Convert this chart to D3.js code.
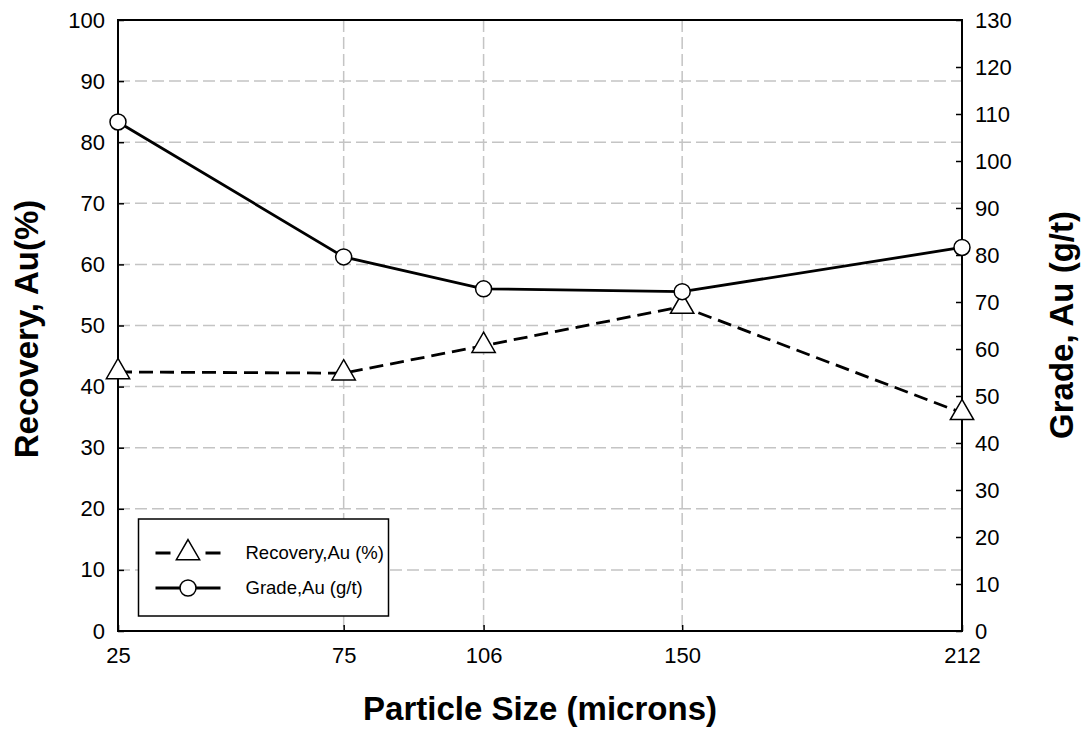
<!DOCTYPE html>
<html>
<head>
<meta charset="utf-8">
<script src="https://cdn.jsdelivr.net/npm/d3@7"></script>
<style>
  html, body { margin: 0; padding: 0; background: #fff; }
  svg { display: block; font-family: "Liberation Sans", Arial, Helvetica, sans-serif; }
</style>
</head>
<body>
<svg id="chart" width="1082" height="733"></svg>
<script>
// Particle sizes (microns)
const sizes = [25, 75, 106, 150, 212];
// Gold recovery, % (left axis)
const recovery = [42.4, 42.2, 46.7, 53.1, 35.7];
// Gold grade, g/t (right axis)
const grade = [108.3, 79.6, 72.8, 72.2, 81.6];
// Axis tick values
const leftTicks = [0, 10, 20, 30, 40, 50, 60, 70, 80, 90, 100];
const rightTicks = [0, 10, 20, 30, 40, 50, 60, 70, 80, 90, 100, 110, 120, 130];
const seriesNames = ["Recovery,Au (%)", "Grade,Au (g/t)"];

const svg = d3.select("#chart");
const m = { left: 118, top: 20, right: 1082 - 962, bottom: 733 - 631 };
const W = 1082 - m.left - m.right;
const H = 733 - m.top - m.bottom;
const g = svg.append("g").attr("transform", `translate(${m.left},${m.top})`);

const x = d3.scaleLinear().domain([25, 212]).range([0, W]);
const yL = d3.scaleLinear().domain([0, 100]).range([H, 0]);
const yR = d3.scaleLinear().domain([0, 130]).range([H, 0]);

// Dashed grid
const grid = g.append("g").attr("stroke", "#c4c4c4").attr("stroke-width", 1.5)
  .attr("stroke-dasharray", "12,5").attr("fill", "none");
grid.selectAll("line.h").data(leftTicks.filter(d => d > 0 && d < 100)).join("line")
  .attr("class", "h").attr("x1", 0).attr("x2", W)
  .attr("y1", d => yL(d)).attr("y2", d => yL(d));
grid.selectAll("line.v").data(sizes.filter(d => d > 25 && d < 212)).join("line")
  .attr("class", "v").attr("y1", 0).attr("y2", H)
  .attr("x1", d => x(d)).attr("x2", d => x(d));

// Axes (ticks pointing inward)
const fs = 22;
const axL = g.append("g").call(d3.axisLeft(yL).tickValues(leftTicks).tickSize(-6).tickPadding(13).tickSizeOuter(0));
const axR = g.append("g").attr("transform", `translate(${W},0)`)
  .call(d3.axisRight(yR).tickValues(rightTicks).tickSize(-6).tickPadding(13).tickSizeOuter(0));
const axB = g.append("g").attr("transform", `translate(0,${H})`)
  .call(d3.axisBottom(x).tickValues(sizes).tickSize(-6).tickPadding(13).tickSizeOuter(0));
[axL, axR, axB].forEach(a => {
  a.select(".domain").remove();
  a.selectAll("line").attr("stroke", "#000").attr("stroke-width", 1.5);
  a.selectAll("text").attr("font-size", fs).attr("fill", "#000")
    .attr("font-family", '"Liberation Sans", Arial, Helvetica, sans-serif');
});
axB.selectAll("text").attr("dy", "0.85em");

// Frame
g.append("rect").attr("x", 0).attr("y", 0).attr("width", W).attr("height", H)
  .attr("fill", "none").attr("stroke", "#000").attr("stroke-width", 2);

// Series
const triSize = 235;
const recLine = d3.line().x((d, i) => x(sizes[i])).y(d => yL(d));
const grdLine = d3.line().x((d, i) => x(sizes[i])).y(d => yR(d));

g.append("path").datum(recovery).attr("d", recLine).attr("fill", "none")
  .attr("stroke", "#000").attr("stroke-width", 2.8).attr("stroke-dasharray", "14,7");
g.selectAll("path.tri").data(recovery).join("path").attr("class", "tri")
  .attr("d", d3.symbol(d3.symbolTriangle, triSize))
  .attr("transform", (d, i) => `translate(${x(sizes[i])},${yL(d)})`)
  .attr("fill", "#fff").attr("stroke", "#000").attr("stroke-width", 1.5);

g.append("path").datum(grade).attr("d", grdLine).attr("fill", "none")
  .attr("stroke", "#000").attr("stroke-width", 2.8);
g.selectAll("circle.pt").data(grade).join("circle").attr("class", "pt")
  .attr("cx", (d, i) => x(sizes[i])).attr("cy", d => yR(d)).attr("r", 8)
  .attr("fill", "#fff").attr("stroke", "#000").attr("stroke-width", 1.5);

// Legend
const lg = svg.append("g").attr("transform", "translate(138.5,519)");
lg.append("rect").attr("width", 250).attr("height", 97)
  .attr("fill", "#fff").attr("stroke", "#000").attr("stroke-width", 1.5);
const rows = [
  { name: seriesNames[0], dash: "15,35,15", sym: "tri", y: 34 },
  { name: seriesNames[1], dash: null, sym: "circ", y: 69 }
];
rows.forEach(r => {
  const ln = lg.append("line").attr("x1", 17).attr("x2", 82).attr("y1", r.y).attr("y2", r.y)
    .attr("stroke", "#000").attr("stroke-width", 2.8);
  if (r.dash) ln.attr("stroke-dasharray", r.dash);
  if (r.sym === "tri") {
    lg.append("path").attr("d", d3.symbol(d3.symbolTriangle, triSize))
      .attr("transform", `translate(49.5,${r.y})`)
      .attr("fill", "#fff").attr("stroke", "#000").attr("stroke-width", 1.5);
  } else {
    lg.append("circle").attr("cx", 49.5).attr("cy", r.y).attr("r", 8)
      .attr("fill", "#fff").attr("stroke", "#000").attr("stroke-width", 1.5);
  }
  lg.append("text").attr("x", 107).attr("y", r.y).attr("dy", "0.35em")
    .attr("font-size", 18.5).text(r.name);
});

// Axis titles
svg.append("text").attr("x", 540).attr("y", 708).attr("text-anchor", "middle")
  .attr("font-size", 33).attr("font-weight", "bold").attr("dy", "0.35em")
  .text("Particle Size (microns)");
svg.append("text").attr("transform", "translate(26,329) rotate(-90)")
  .attr("text-anchor", "middle").attr("dy", "0.35em")
  .attr("font-size", 33).attr("font-weight", "bold").text("Recovery, Au(%)");
svg.append("text").attr("transform", "translate(1061,325) rotate(-90)")
  .attr("text-anchor", "middle").attr("dy", "0.35em")
  .attr("font-size", 33).attr("font-weight", "bold").text("Grade, Au (g/t)");
</script>
</body>
</html>
